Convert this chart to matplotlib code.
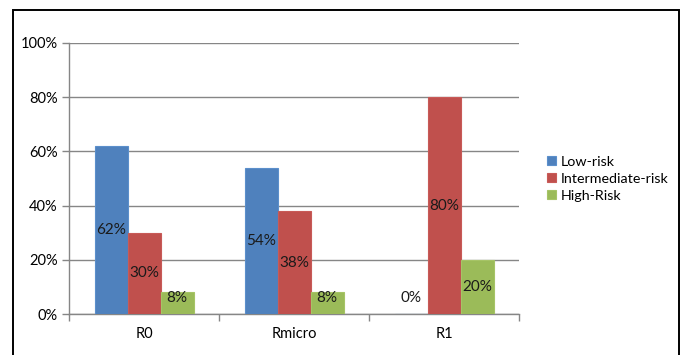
import numpy as np
import matplotlib
matplotlib.use("Agg")
import matplotlib.pyplot as plt
from matplotlib.patches import Rectangle

# Data
categories = ["R0", "Rmicro", "R1"]
series_names = ["Low-risk", "Intermediate-risk", "High-Risk"]
low_risk = [62, 54, 0]
intermediate_risk = [30, 38, 80]
high_risk = [8, 8, 20]
y_ticks = [0, 20, 40, 60, 80, 100]

colors = ["#4F81BD", "#C0504D", "#9BBB59"]
edges = ["#5B8FCB", "#C85A57", "#A6C466"]

plt.rcParams["font.family"] = ["Lato", "DejaVu Sans"]

fig = plt.figure(figsize=(6.84, 3.55), dpi=100)
ax = fig.add_axes([69 / 684, 1 - 314 / 355, 450 / 684, 271 / 355])

x = np.arange(len(categories))
width = 0.22
all_series = [low_risk, intermediate_risk, high_risk]
for i, vals in enumerate(all_series):
    xs = x + (i - 1) * width
    ax.bar(xs, vals, width, color=colors[i], edgecolor=edges[i], linewidth=0.8,
           label=series_names[i], zorder=3)
    for xi, v in zip(xs, vals):
        ax.text(xi, max(v / 2, 6), f"{v}%", ha="center", va="center",
                fontsize=11, color="#1a1a1a", zorder=4)

ax.set_xlim(-0.5, 2.5)
ax.set_ylim(0, 100)
ax.set_yticks(y_ticks)
ax.set_yticklabels([f"{t}%" for t in y_ticks])
ax.yaxis.grid(True, color="#868686", linewidth=1.0, zorder=0)

# category ticks sit between groups, labels in the middle
ax.set_xticks([-0.5, 0.5, 1.5, 2.5])
ax.set_xticklabels([])
ax.set_xticks(x, minor=True)
ax.set_xticklabels(categories, minor=True)
ax.tick_params(axis="x", which="minor", length=0, pad=9, labelsize=10.5)
ax.tick_params(axis="x", which="major", length=5, color="#868686", width=1)
ax.tick_params(axis="y", length=5, color="#868686", width=1, labelsize=10.5, pad=3)

for side in ["top", "right"]:
    ax.spines[side].set_visible(False)
for side in ["left", "bottom"]:
    ax.spines[side].set_color("#868686")
    ax.spines[side].set_linewidth(1.0)

leg = fig.legend(loc="upper left", bbox_to_anchor=(541 / 684, 1 - 150 / 355),
                 frameon=False, fontsize=10.3, handlelength=0.65, handleheight=0.65,
                 handletextpad=0.35, labelspacing=0.35, borderaxespad=0)

# outer frame around the figure (no bottom edge visible)
fig.patches.append(Rectangle((13 / 684, -0.05), (679 - 13) / 684, 1.05 - 10 / 355,
                             transform=fig.transFigure, fill=False,
                             edgecolor="black", linewidth=1.4))

fig.savefig("out.png", dpi=100)
